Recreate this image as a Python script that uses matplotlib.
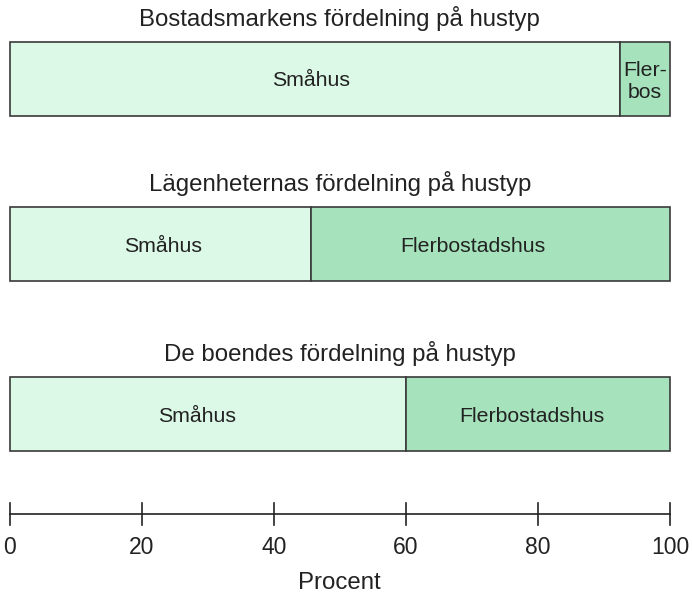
import matplotlib
matplotlib.use("Agg")
import matplotlib.pyplot as plt

plt.rcParams['font.family'] = ['Liberation Sans', 'DejaVu Sans']

# data (percent)
titles = ["Bostadsmarkens fördelning på hustyp",
          "Lägenheternas fördelning på hustyp",
          "De boendes fördelning på hustyp"]
smahus = [92.4, 45.7, 60.1]
labels_small = ["Småhus", "Småhus", "Småhus"]
labels_big = ["Fler-\nbos", "Flerbostadshus", "Flerbostadshus"]
ticks = [0, 20, 40, 60, 80, 100]

# layout in pixels / label x positions in percent
bar_top = [42, 207, 377]
bar_h = 74
small_x = [45.6, 23.2, 28.4]
big_x = [96.2, 70.1, 79.1]
light = "#dcf8e6"
dark = "#a6e3bc"
edge = "#3a3a3a"
txt = "#222222"

fig = plt.figure(figsize=(6.92, 5.93), dpi=100)
ax = fig.add_axes([0, 0, 1, 1])
px0, scale = 9.5, 6.605  # pixel position of 0 %, pixels per percent
ax.set_xlim(-px0 / scale, (692 - px0) / scale)
ax.set_ylim(593, 0)
ax.axis("off")

for i in range(3):
    yc = bar_top[i] + bar_h / 2
    s = smahus[i]
    ax.barh(yc, s, left=0, height=bar_h, color=light, edgecolor=edge, linewidth=1.2)
    ax.barh(yc, 100 - s, left=s, height=bar_h, color=dark, edgecolor=edge, linewidth=1.2)
    ax.text(small_x[i], yc + 2, labels_small[i], ha="center", va="center", fontsize=15.3, color=txt)
    ax.text(big_x[i], yc + 2, labels_big[i], ha="center", va="center",
            fontsize=15.3, color=txt, linespacing=1.2)
    ax.text(50, bar_top[i] - 16, titles[i], ha="center", va="baseline", fontsize=17.3, color=txt)

# percent axis
ax.plot([0, 100], [514, 514], color=txt, lw=1.2)
for t in ticks:
    ax.plot([t, t], [503, 525], color=txt, lw=1.2)
    ax.text(t, 554, str(t), ha="center", va="baseline", fontsize=16.5, color=txt)
ax.text(50, 589, "Procent", ha="center", va="baseline", fontsize=17.3, color=txt)

fig.savefig("out.png", dpi=100)
